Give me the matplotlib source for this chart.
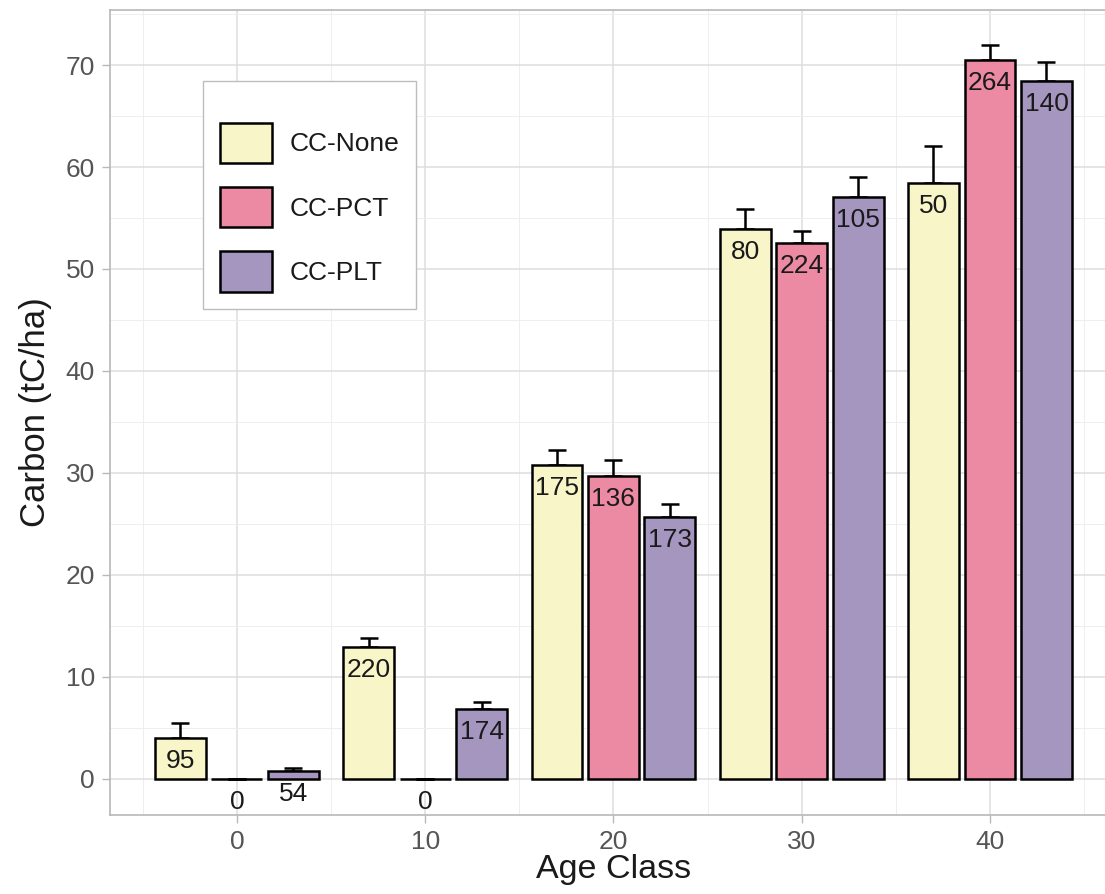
import matplotlib
matplotlib.use('Agg')
import matplotlib.pyplot as plt
from matplotlib.patches import Patch
import numpy as np

plt.rcParams['font.family'] = ['Liberation Sans', 'DejaVu Sans']

age_class = [0, 10, 20, 30, 40]
treatments = ['CC-None', 'CC-PCT', 'CC-PLT']
colours = ['#F8F6C8', '#EC8AA3', '#A596C0']

# mean carbon (tC/ha) and upper error-bar tips per treatment
carbon_mean = {
    'CC-None': [4.0, 12.9, 30.8, 53.9, 58.4],
    'CC-PCT': [0.0, 0.0, 29.7, 52.5, 70.5],
    'CC-PLT': [0.8, 6.8, 25.7, 57.1, 68.4],
}
carbon_upper = {
    'CC-None': [5.5, 13.8, 32.2, 55.9, 62.1],
    'CC-PCT': [0.0, 0.0, 31.3, 53.7, 72.0],
    'CC-PLT': [1.05, 7.5, 27.0, 59.0, 70.3],
}
# number of plots in each bar
n_plots = {
    'CC-None': [95, 220, 175, 80, 50],
    'CC-PCT': [0, 0, 136, 224, 264],
    'CC-PLT': [54, 174, 173, 105, 140],
}

dodge = [-3, 0, 3]
bar_w = 2.7

fig = plt.figure(figsize=(11.05, 8.94), dpi=100)
ax = fig.add_axes([110 / 1105, 79 / 894, 1008 / 1105, 805 / 894])

x = np.array(age_class, dtype=float)
for trt, col, off in zip(treatments, colours, dodge):
    m = np.array(carbon_mean[trt])
    up = np.array(carbon_upper[trt]) - m
    xs = x + off
    ax.errorbar(xs, m, yerr=[np.zeros_like(m), up], fmt='none', ecolor='black',
                elinewidth=1.8, capsize=6.5, capthick=1.8, zorder=2)
    ax.bar(xs, m, width=bar_w, color=col, edgecolor='black', linewidth=1.8, zorder=3)
    for xi, mi, n in zip(xs, m, n_plots[trt]):
        ax.annotate(str(n), xy=(xi, mi), xytext=(0, -16.5), textcoords='offset points',
                    ha='center', va='center', fontsize=19, color='#1a1a1a', zorder=4)

ax.set_xlim(-6.74, 46.8)
ax.set_ylim(-3.55, 75.4)
ax.set_xticks(age_class)
ax.set_xticks(np.arange(-5, 50, 10), minor=True)
ax.set_yticks(np.arange(0, 80, 10))
ax.set_yticks(np.arange(5, 80, 10), minor=True)

ax.grid(which='major', color='#DEDEDE', linewidth=1.1, zorder=0)
ax.grid(which='minor', color='#EEEEEE', linewidth=0.7, zorder=0)
ax.set_axisbelow(True)

for s in ax.spines.values():
    s.set_color('#B8B8B8')
    s.set_linewidth(1.2)

ax.tick_params(which='major', length=5.8, width=1, color='#B8B8B8',
               labelsize=19, labelcolor='#555555', pad=5)
ax.tick_params(which='minor', length=0)

ax.set_xlabel('Age Class', fontsize=24.5, color='#1a1a1a', labelpad=0)
ax.set_ylabel('Carbon (tC/ha)', fontsize=25, color='#1a1a1a', labelpad=10)

handles = [Patch(facecolor=c, edgecolor='black', linewidth=1.8) for c in colours]
leg = ax.legend(handles, treatments, loc='upper left',
                bbox_to_anchor=(203 / 1105, 1 - 81 / 894), bbox_transform=fig.transFigure,
                borderaxespad=0, fontsize=19, title=' ', title_fontsize=1,
                handlelength=1.97, handleheight=1.97, labelspacing=0.91,
                handletextpad=0.68, borderpad=0.64, fancybox=False, framealpha=1,
                edgecolor='#BDBDBD')
leg.get_frame().set_linewidth(1.0)
for t in leg.get_texts():
    t.set_color('#1a1a1a')

fig.savefig('out.png', dpi=100)
